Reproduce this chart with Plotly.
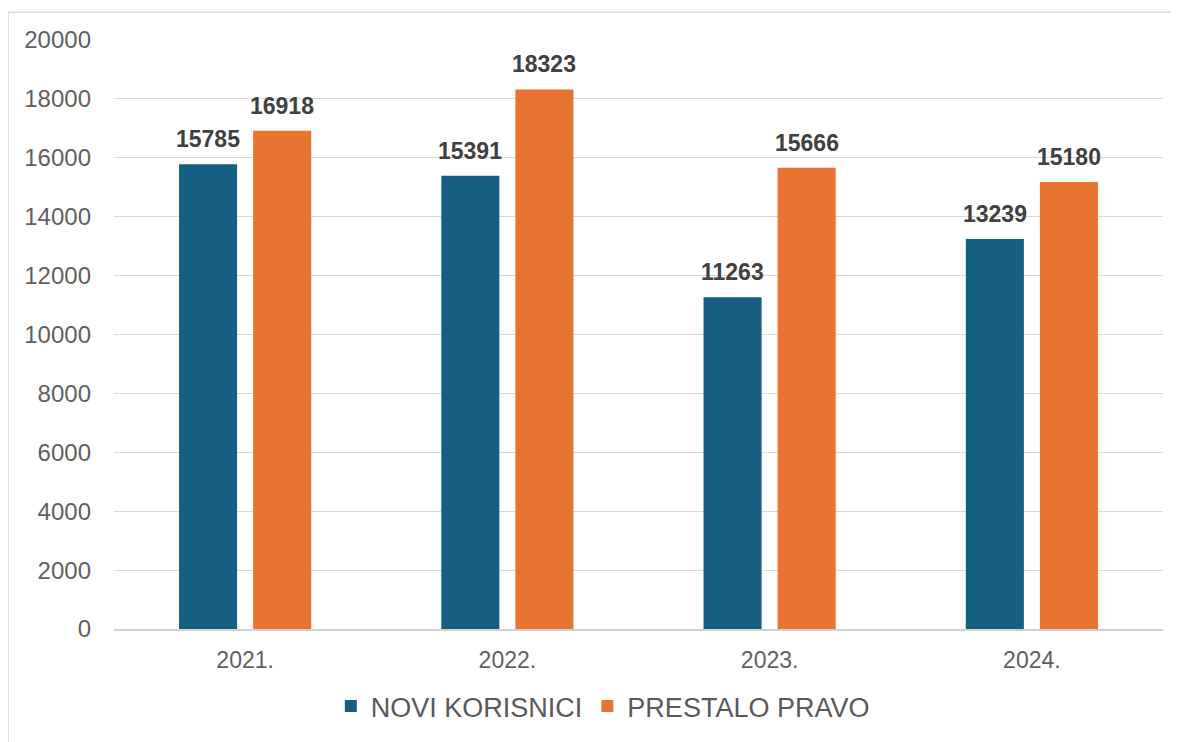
import plotly.graph_objects as go

categories = ["2021.", "2022.", "2023.", "2024."]
novi = [15785, 15391, 11263, 13239]
prestalo = [16918, 18323, 15666, 15180]
tick_vals = list(range(0, 20001, 2000))
tick_text = [str(v) for v in tick_vals]

LABEL_FONT = dict(family="Liberation Sans", size=23, color="#404040")

fig = go.Figure()
fig.add_trace(go.Bar(name="NOVI KORISNICI", x=categories, y=novi, marker_color="#175f81"))
fig.add_trace(go.Bar(name="PRESTALO PRAVO", x=categories, y=prestalo, marker_color="#e97432"))

# value labels placed at category index (category axis) and shifted over each bar
for series, shift in ((novi, -37), (prestalo, 37)):
    for idx, val in enumerate(series):
        fig.add_annotation(x=idx, y=val, xref="x", yref="y", text=f"<b>{val}</b>",
                           showarrow=False, xshift=shift, yshift=10, yanchor="bottom",
                           font=LABEL_FONT)

fig.update_layout(
    width=1171, height=734,
    margin=dict(l=106, r=16, t=32, b=112),
    paper_bgcolor="white", plot_bgcolor="white",
    barmode="group", bargap=0.435, bargroupgap=0.216,
    font=dict(family="Liberation Sans", color="#595959", size=23),
    showlegend=True,
    legend=dict(orientation="h", x=0.466, xanchor="center", y=-0.088, yanchor="top",
                font=dict(size=27, color="#595959"), itemwidth=30),
)
fig.update_traces(marker_line_width=0)
fig.update_yaxes(range=[0, 20000], tickvals=tick_vals, ticktext=tick_text, showgrid=True,
                 gridcolor="#d9d9d9", gridwidth=1, zeroline=False,
                 tickfont=dict(size=24, color="#5f5f5f"), ticklabelstandoff=22, showline=False)
fig.update_xaxes(type="category", categoryorder="array", categoryarray=categories,
                 range=[-0.5, len(categories) - 0.5],
                 showline=True, linecolor="#d0d0d0", linewidth=1.5,
                 tickfont=dict(size=23, color="#5f5f5f"), ticks="", ticklabelstandoff=10)
fig.add_shape(type="rect", xref="paper", yref="paper", x0=-0.101, x1=1.03, y0=-0.3, y1=1.047,
              line=dict(color="#d9d9d9", width=1.5), fillcolor="rgba(0,0,0,0)", layer="below")

fig.write_html("out.html")
